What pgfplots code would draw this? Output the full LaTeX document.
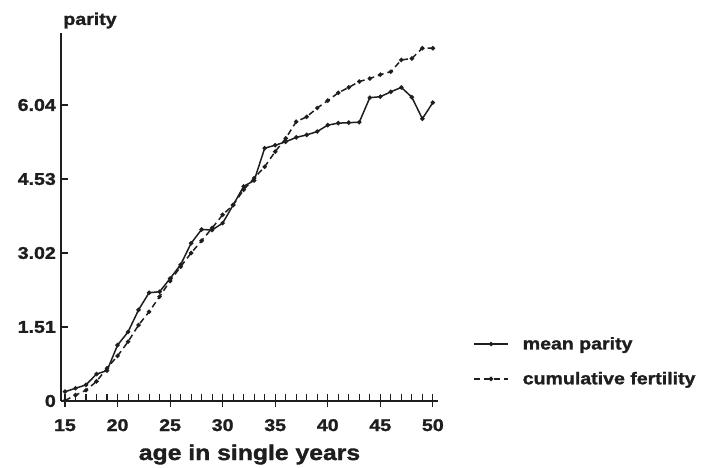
\documentclass[border=0pt]{standalone}
\usepackage{pgfplots}
\pgfplotsset{compat=1.18}
\usepackage{fontspec}
\setmainfont{Liberation Sans}[FakeStretch=1.15, BoldFeatures={FakeBold=1.5}]
\definecolor{ink}{HTML}{1E1E1E}
\begin{document}
\begin{tikzpicture}[x=1pt,y=1pt]
\useasboundingbox (-61,-66) rectangle (645,401);
\begin{axis}[
  at={(0,0)}, anchor=origin,
  scale only axis, width=377pt, height=368pt,
  xmin=14.62, xmax=50.49, ymin=0, ymax=7.51,
  axis x line*=bottom, axis y line*=left,
  axis line style={ink, line width=1.3pt},
  xtick={15,20,25,30,35,40,45,50},
  minor x tick num=4,
  ytick={0,1.51,3.02,4.53,6.04},
  yticklabels={0,1.51,3.02,4.53,6.04},
  tick align=inside,
  major tick length=7pt, minor tick length=7pt,
  tick style={ink, line width=1.1pt},
  extra x ticks={15,20,25,30,35,40,45,50},
  extra x tick labels={},
  extra x tick style={tick align=outside, major tick length=6pt},
  /pgf/number format/assume math mode=true,
  tick label style={font=\fontsize{17}{20}\selectfont\bfseries, text=ink},
  xticklabel style={anchor=base, yshift=-30pt},
  yticklabel style={anchor=east, inner sep=0pt, xshift=-5pt},
  xlabel={age in single years},
  xlabel style={font=\fontsize{21.5}{24}\selectfont\bfseries, text=ink, at={(axis description cs:0.5,0)}, anchor=base, yshift=-59pt},
  ylabel={parity},
  ylabel style={font=\fontsize{17}{20}\selectfont\bfseries, text=ink, at={(axis description cs:-0.003,1.022)}, anchor=base west, rotate=-90},
  legend style={at={(axis description cs:1.085,0.185)}, anchor=north west, draw=none, fill=none,
    font=\fontsize{17}{20}\selectfont\bfseries, text=ink, row sep=17pt, nodes={inner xsep=14pt}},
  legend cell align=left,
  legend image code/.code={\draw[mark repeat=2,mark phase=2,#1] plot coordinates {(0pt,0pt) (17pt,0pt) (34pt,0pt)};},
  clip=false,
]
\addplot[ink, line width=1.5pt, mark=*, mark size=1.4pt] coordinates {
(15,0.19) (16,0.26) (17,0.33) (18,0.55) (19,0.62) (20,1.14) (21,1.41) (22,1.86) (23,2.21) (24,2.23)
(25,2.50) (26,2.78) (27,3.22) (28,3.50) (29,3.49) (30,3.63) (31,4.00) (32,4.38) (33,4.50) (34,5.16)
(35,5.22) (36,5.29) (37,5.38) (38,5.43) (39,5.50) (40,5.63) (41,5.67) (42,5.68) (43,5.69) (44,6.19)
(45,6.21) (46,6.31) (47,6.40) (48,6.20) (49,5.76) (50,6.09)
};
\addlegendentry{mean parity}
\addplot[ink, line width=1.5pt, dash pattern=on 6pt off 4pt, mark=*, mark size=1.4pt, mark options={solid}] coordinates {
(15,0.01) (16,0.12) (17,0.22) (18,0.40) (19,0.67) (20,0.92) (21,1.21) (22,1.55) (23,1.82) (24,2.13)
(25,2.45) (26,2.74) (27,3.02) (28,3.27) (29,3.53) (30,3.80) (31,4.00) (32,4.31) (33,4.55) (34,4.78)
(35,5.09) (36,5.36) (37,5.70) (38,5.80) (39,5.98) (40,6.13) (41,6.29) (42,6.40) (43,6.52) (44,6.58)
(45,6.66) (46,6.72) (47,6.96) (48,6.99) (49,7.20) (50,7.20)
};
\addlegendentry{cumulative fertility}
\end{axis}
\end{tikzpicture}
\end{document}
